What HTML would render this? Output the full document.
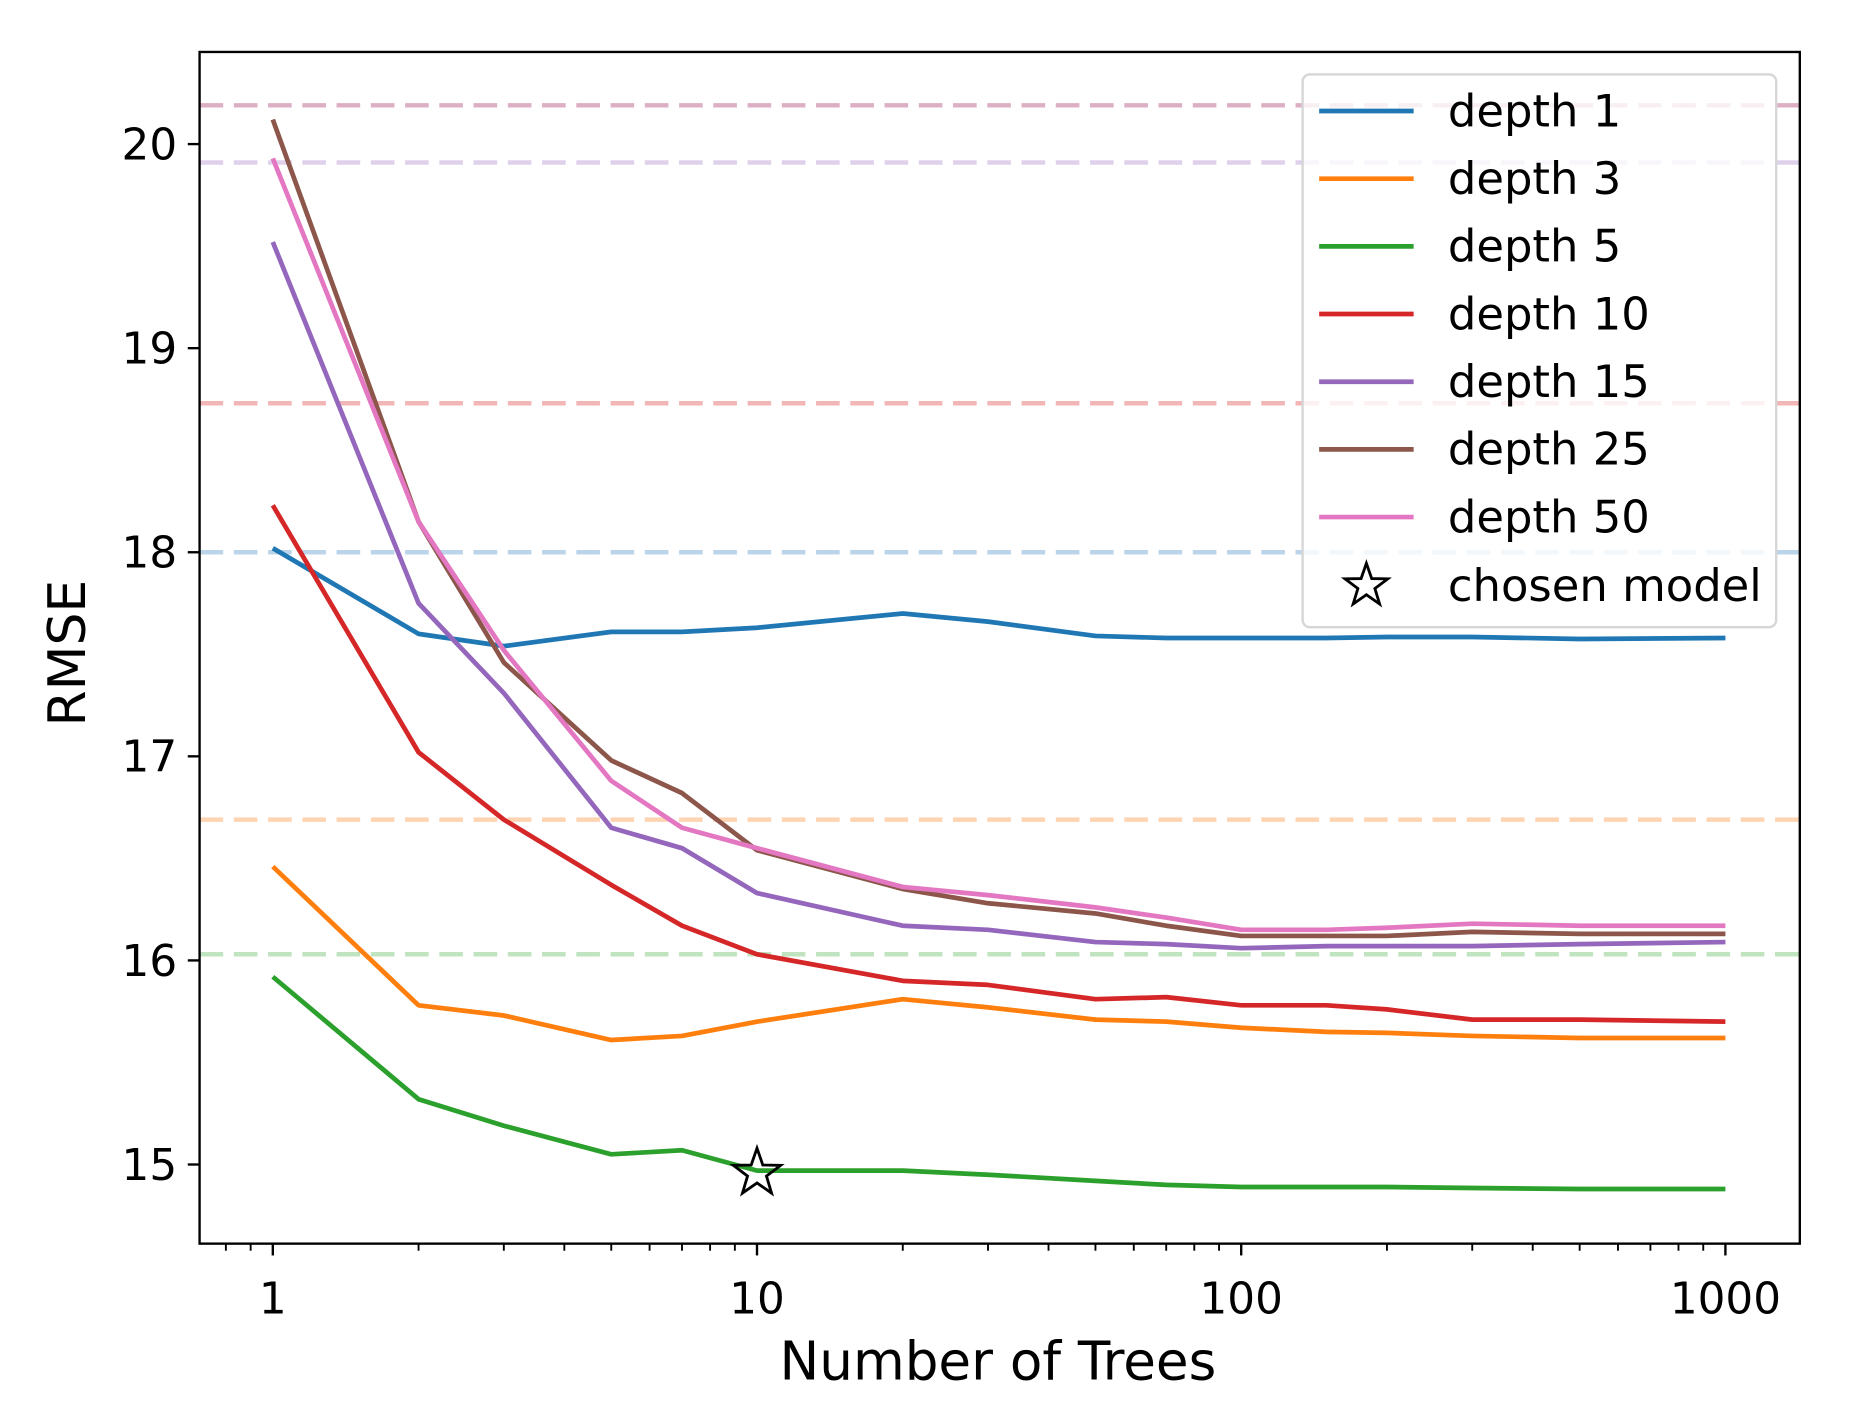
<!DOCTYPE html>
<html><head><meta charset="utf-8"><style>
html,body{margin:0;padding:0;background:#fff;}
svg{display:block;}
text{font-family:"DejaVu Sans","Liberation Sans",sans-serif;fill:#000;}
</style></head><body>
<svg id="s" width="1850" height="1413" viewBox="0 0 1566.5 1196.4" preserveAspectRatio="none" xmlns="http://www.w3.org/2000/svg"></svg>
<script>
const s=document.getElementById('s');
const X=v=>231+Math.log10(v)*410;
const Y=v=>122+(20-v)*172.8;
let h='';
const dl=[[20.19,'#ddafc4'],[19.91,'#dfd0ec'],[18.73,'#f2b6b6'],[18.0,'#bcd4ea'],[16.69,'#ffd4b3'],[16.03,'#c0e4bf']];
for(const [v,c] of dl){h+=`<line x1="169" x2="1524" y1="${Y(v)}" y2="${Y(v)}" stroke="${c}" stroke-width="3.8" stroke-dasharray="20,9"/>`;}
const xs=[1,2,3,5,7,10,20,30,50,70,100,150,200,300,500,1000];
const S=[
['#1f77b4','depth 1',[18.02,17.60,17.54,17.61,17.61,17.63,17.70,17.66,17.59,17.58,17.58,17.58,17.585,17.585,17.575,17.58]],
['#ff7f0e','depth 3',[16.46,15.78,15.73,15.61,15.63,15.70,15.81,15.77,15.71,15.70,15.67,15.65,15.645,15.63,15.62,15.62]],
['#2ca02c','depth 5',[15.92,15.32,15.19,15.05,15.07,14.97,14.97,14.95,14.92,14.90,14.89,14.89,14.89,14.885,14.88,14.88]],
['#d62728','depth 10',[18.23,17.02,16.69,16.37,16.17,16.03,15.90,15.88,15.81,15.82,15.78,15.78,15.76,15.71,15.71,15.70]],
['#9467bd','depth 15',[19.52,17.75,17.31,16.65,16.55,16.33,16.17,16.15,16.09,16.08,16.06,16.07,16.07,16.07,16.08,16.09]],
['#8c564b','depth 25',[20.12,18.15,17.46,16.98,16.82,16.54,16.35,16.28,16.23,16.17,16.12,16.12,16.12,16.14,16.13,16.13]],
['#e377c2','depth 50',[19.93,18.15,17.52,16.88,16.65,16.55,16.36,16.32,16.26,16.21,16.15,16.15,16.16,16.18,16.17,16.17]]];
for(const [c,n,d] of S){h+=`<polyline fill="none" stroke="${c}" stroke-width="4" stroke-linejoin="round" points="${d.map((v,i)=>X(xs[i])+','+Y(v)).join(' ')}"/>`;}
function star(cx,cy,R){let p=[];for(let i=0;i<10;i++){const r=i%2?R*0.4:R;const a=-Math.PI/2+i*Math.PI/5;p.push((cx+r*Math.cos(a)).toFixed(1)+','+(cy+r*Math.sin(a)).toFixed(1));}return `<polygon points="${p.join(' ')}" fill="none" stroke="#000" stroke-width="2.4" stroke-linejoin="miter"/>`;}
h+=star(X(10),Y(14.97)+2,21);
h+=`<rect x="169" y="44" width="1355" height="1009" fill="none" stroke="#000" stroke-width="2"/>`;
for(let v=15;v<=20;v++){const y=Y(v);h+=`<line x1="159" x2="169" y1="${y}" y2="${y}" stroke="#000" stroke-width="2"/><text x="150" y="${y+13}" font-size="37" text-anchor="end">${v}</text>`;}
for(let e=-1;e<=3;e++){for(let m=1;m<10;m++){const v=m*Math.pow(10,e);const x=X(v);if(x<170||x>1523)continue;const L=m==1?10:6;h+=`<line x1="${x}" x2="${x}" y1="1053" y2="${1053+L}" stroke="#000" stroke-width="${m==1?2:1.6}"/>`;}}
for(const v of [1,10,100,1000]){h+=`<text x="${X(v)}" y="1112" font-size="37" text-anchor="middle">${v}</text>`;}
h+=`<text x="845" y="1168" font-size="45" text-anchor="middle">Number of Trees</text>`;
h+=`<text transform="translate(72,553) rotate(-90)" font-size="44" text-anchor="middle">RMSE</text>`;
h+=`<rect x="1103" y="63" width="401" height="468" rx="6" fill="#fff" fill-opacity="0.8" stroke="#d6d6d6" stroke-width="2"/>`;
S.forEach(([c,n],i)=>{const y=94+i*57.3;h+=`<line x1="1117" x2="1197" y1="${y}" y2="${y}" stroke="${c}" stroke-width="4"/><text x="1226" y="${y+13}" font-size="38">${n}</text>`;});
h+=star(1157,496,19);
h+=`<text x="1226" y="509" font-size="38">chosen model</text>`;
s.innerHTML=h;
</script>
</body></html>
